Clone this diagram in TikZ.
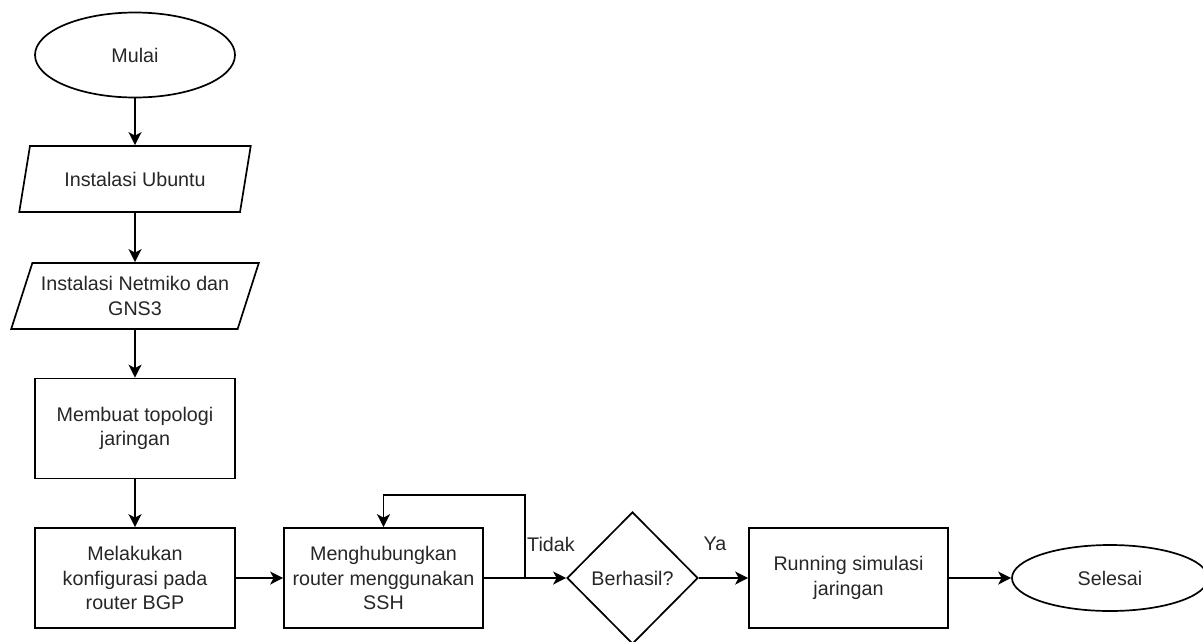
\documentclass[tikz,border=0pt]{standalone}
\usepackage{fontspec}
\setmainfont{Liberation Sans}
\usetikzlibrary{shapes.geometric,arrows.meta}
\begin{document}
\begin{tikzpicture}[x=1pt,y=-1pt,
  every node/.style={font=\fontsize{19.7}{24.5}\selectfont, text=black!85},
  line/.style={line width=1.7pt, draw=black},
  arr/.style={line, -{Stealth[length=13pt,width=13pt,inset=3.5pt]}},
  proc/.style={draw, line width=1.7pt, minimum width=200pt, minimum height=100pt, inner sep=2pt, align=center},
  term/.style={draw, ellipse, line width=1.7pt, inner sep=0pt},
  io/.style={draw, trapezium, trapezium left angle=63.5, trapezium right angle=116.5, trapezium stretches=true, line width=1.7pt, minimum height=66pt, align=center, inner sep=0pt},
  dec/.style={draw, diamond, line width=1.7pt, minimum width=131pt, minimum height=132pt, inner sep=0pt},
  lbl/.style={inner sep=2pt}
]
\useasboundingbox (0,0) rectangle (1203,641);

\node[term, minimum width=200pt, minimum height=85pt] (mulai) at (135,55) {Mulai};
\node[io, minimum width=232pt] (ubuntu) at (135,179) {Instalasi Ubuntu};
\node[io, minimum width=248pt] (netmiko) at (135,296) {Instalasi Netmiko dan\\GNS3};
\node[proc] (topo) at (135,428.5) {Membuat topologi\\jaringan};
\node[proc] (konf) at (135,578) {Melakukan\\konfigurasi pada\\router BGP};
\node[proc, minimum width=199pt] (ssh) at (383.5,578) {Menghubungkan\\router menggunakan\\SSH};
\node[dec] (cek) at (632.5,578) {Berhasil?};
\node[proc, minimum width=199pt] (run) at (848.5,578) {Running simulasi\\jaringan};
\node[term, minimum width=196pt, minimum height=66pt] (selesai) at (1110,578) {Selesai};

\coordinate (j) at (525,578);
\coordinate (t) at (525,495);

\draw[arr] (mulai) -- (ubuntu);
\draw[arr] (ubuntu) -- (netmiko);
\draw[arr] (netmiko) -- (topo);
\draw[arr] (topo) -- (konf);
\draw[arr] (konf) -- (ssh);
\draw[arr] (ssh) -- (cek);
\draw[arr] (j) -- (t) -| (ssh.north);
\draw[arr] (cek) -- (run);
\draw[arr] (run) -- (selesai);

\node[lbl, anchor=west] (tidak) at (525,544) {Tidak};
\node[lbl] (ya) at (715,544) {Ya};
\end{tikzpicture}
\end{document}
